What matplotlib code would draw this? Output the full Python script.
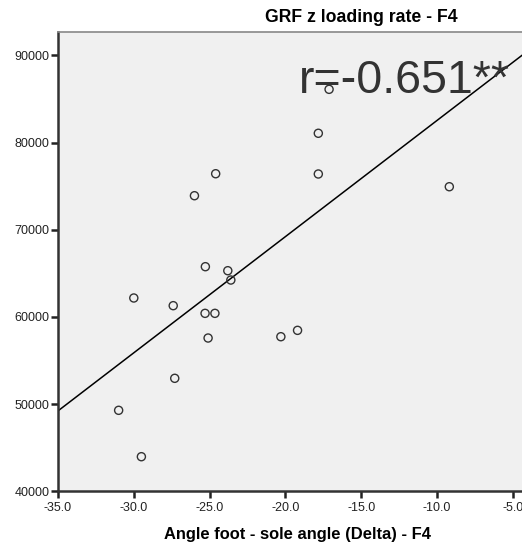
import numpy as np
import matplotlib.pyplot as plt

# Foot-sole angle (deg) and GRF z loading rate for each subject
angle = [-17.12, -17.83, -17.83, -24.6, -9.19, -26.0, -25.28, -23.8, -23.6,
         -30.0, -27.4, -25.3, -24.65, -25.1, -20.3, -19.2, -27.3, -31.0, -29.5]
loading_rate = [86100, 81060, 76390, 76420, 74930, 73900, 65760, 65300, 64230,
                62170, 61290, 60410, 60410, 57580, 57730, 58460, 52960, 49290, 43970]

x_ticks = [-35.0, -30.0, -25.0, -20.0, -15.0, -10.0, -5.0]
y_ticks = [40000, 50000, 60000, 70000, 80000, 90000]
r_text = 'r=-0.651**'

plt.rcParams['font.family'] = ['Liberation Sans', 'DejaVu Sans']

fig = plt.figure(figsize=(5.22, 5.42), dpi=100)
ax = fig.add_axes([0.1111, 0.0935, 0.9004, 0.8474])
ax.set_facecolor('#f0f0f0')

ax.scatter(angle, loading_rate, s=34, facecolors='none', edgecolors='#333333',
           linewidths=1.0, zorder=3)

# least squares fit line across the whole x range
slope, intercept = np.polyfit(angle, loading_rate, 1)
xs = np.array([-35.0, -4.0])
ax.plot(xs, slope * xs + intercept, color='black', lw=1.1, zorder=2)

ax.set_xlim(-35, -4.0)
ax.set_ylim(40000, 92670)
ax.set_xticks(x_ticks)
ax.set_xticklabels(['%.1f' % v for v in x_ticks])
ax.set_yticks(y_ticks)
ax.tick_params(direction='out', length=5.2, width=1.8, color='#222222',
               labelsize=9, labelcolor='#222222')
ax.tick_params(axis='x', pad=2.5)
ax.tick_params(axis='y', pad=0.8)

for side in ['left', 'bottom']:
    ax.spines[side].set_color('#333333')
    ax.spines[side].set_linewidth(1.8)
ax.spines['top'].set_color('#888888')
ax.spines['top'].set_linewidth(1.2)
ax.spines['right'].set_visible(False)

ax.text(0.512, 0.8666, r_text, transform=ax.transAxes, fontsize=33.5,
        color='#333333', ha='left', va='baseline', zorder=5)

fig.text(361 / 522, 1 - 18 / 542, 'GRF z loading rate - F4', ha='center', va='center',
         fontsize=12.7, fontweight='bold')
fig.text(297 / 522, 1 - 534 / 542, 'Angle foot - sole angle (Delta) - F4', ha='center',
         va='center', fontsize=11.9, fontweight='bold')

fig.savefig('out.png', dpi=100)
